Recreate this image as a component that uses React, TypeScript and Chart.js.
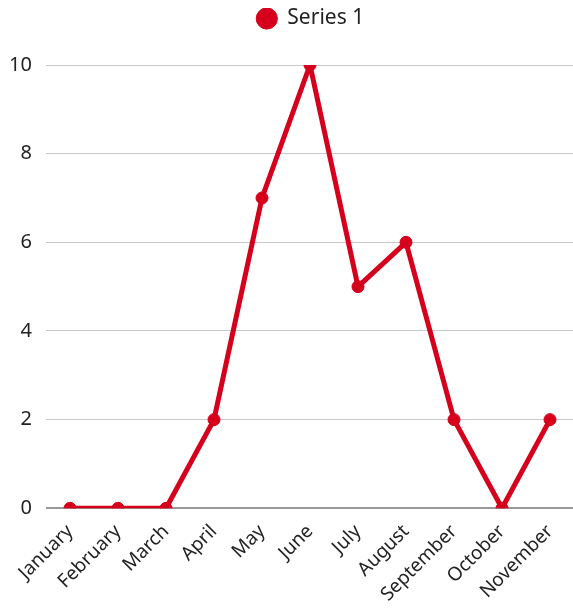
import { useEffect, useRef } from 'react';
import { Chart, registerables } from 'chart.js';

Chart.register(...registerables);

const categories = [
  'January', 'February', 'March', 'April', 'May', 'June',
  'July', 'August', 'September', 'October', 'November',
];
const series1 = [0, 0, 0, 2, 7, 10, 5, 6, 2, 0, 2];
const seriesLabel = 'Series 1';

const RED = '#d6001c';
const FONT = '"Noto Sans", sans-serif';

// extra space under the legend, and a small nudge of the legend to the right
const legendPlacement = {
  id: 'legendPlacement',
  beforeInit(chart: any) {
    const legend = chart.legend;
    if (!legend) return;
    const fit = legend.fit;
    legend.fit = function () {
      fit.call(this);
      this.height += 26;
    };
  },
  afterLayout(chart: any) {
    const legend = chart.legend;
    if (!legend) return;
    legend.left += 12;
    legend.right += 12;
  },
};

export default function App() {
  const ref = useRef<HTMLCanvasElement | null>(null);

  useEffect(() => {
    if (!ref.current) return;
    const chart = new Chart(ref.current, {
      type: 'line',
      data: {
        labels: categories,
        datasets: [
          {
            label: seriesLabel,
            data: series1,
            borderColor: RED,
            backgroundColor: RED,
            borderWidth: 5,
            pointRadius: 6,
            pointHoverRadius: 6,
            pointBorderWidth: 1,
            pointBackgroundColor: RED,
            pointBorderColor: RED,
            tension: 0,
          },
        ],
      },
      options: {
        animation: false,
        responsive: true,
        maintainAspectRatio: false,
        layout: { padding: { left: 0, right: -8, top: 0, bottom: 0 } },
        plugins: {
          legend: {
            position: 'top',
            labels: {
              usePointStyle: true,
              pointStyle: 'circle',
              boxHeight: 15,
              boxWidth: 20,
              padding: 0,
              color: '#222',
              font: { family: FONT, size: 21 },
            },
          },
          tooltip: { enabled: false },
        },
        scales: {
          x: {
            offset: true,
            grid: { display: false },
            border: { display: false },
            ticks: {
              color: '#222',
              font: { family: FONT, size: 19 },
              minRotation: 45,
              maxRotation: 45,
              padding: 4,
            },
            afterFit(scale: any) {
              scale.paddingLeft = 0;
              scale.paddingRight = 0;
            },
          },
          y: {
            min: 0,
            max: 10,
            border: { display: false },
            grid: {
              drawTicks: false,
              color: (c: any) => (c.tick && c.tick.value === 0 ? '#999' : '#c8c8c8'),
              lineWidth: (c: any) => (c.tick && c.tick.value === 0 ? 2 : 1),
            },
            ticks: {
              stepSize: 2,
              color: '#222',
              padding: 14,
              font: { family: FONT, size: 20 },
            },
            afterFit(scale: any) {
              scale.width = 38;
            },
          },
        },
      },
      plugins: [legendPlacement],
    });
    return () => chart.destroy();
  }, []);

  return (
    <div
      style={{
        position: 'fixed',
        left: 0,
        top: 0,
        width: 573,
        height: 610,
        overflow: 'hidden',
        background: '#fff',
      }}
    >
      <div style={{ position: 'absolute', left: 8, top: 8, width: 573, height: 602 }}>
        <canvas ref={ref} />
      </div>
    </div>
  );
}
